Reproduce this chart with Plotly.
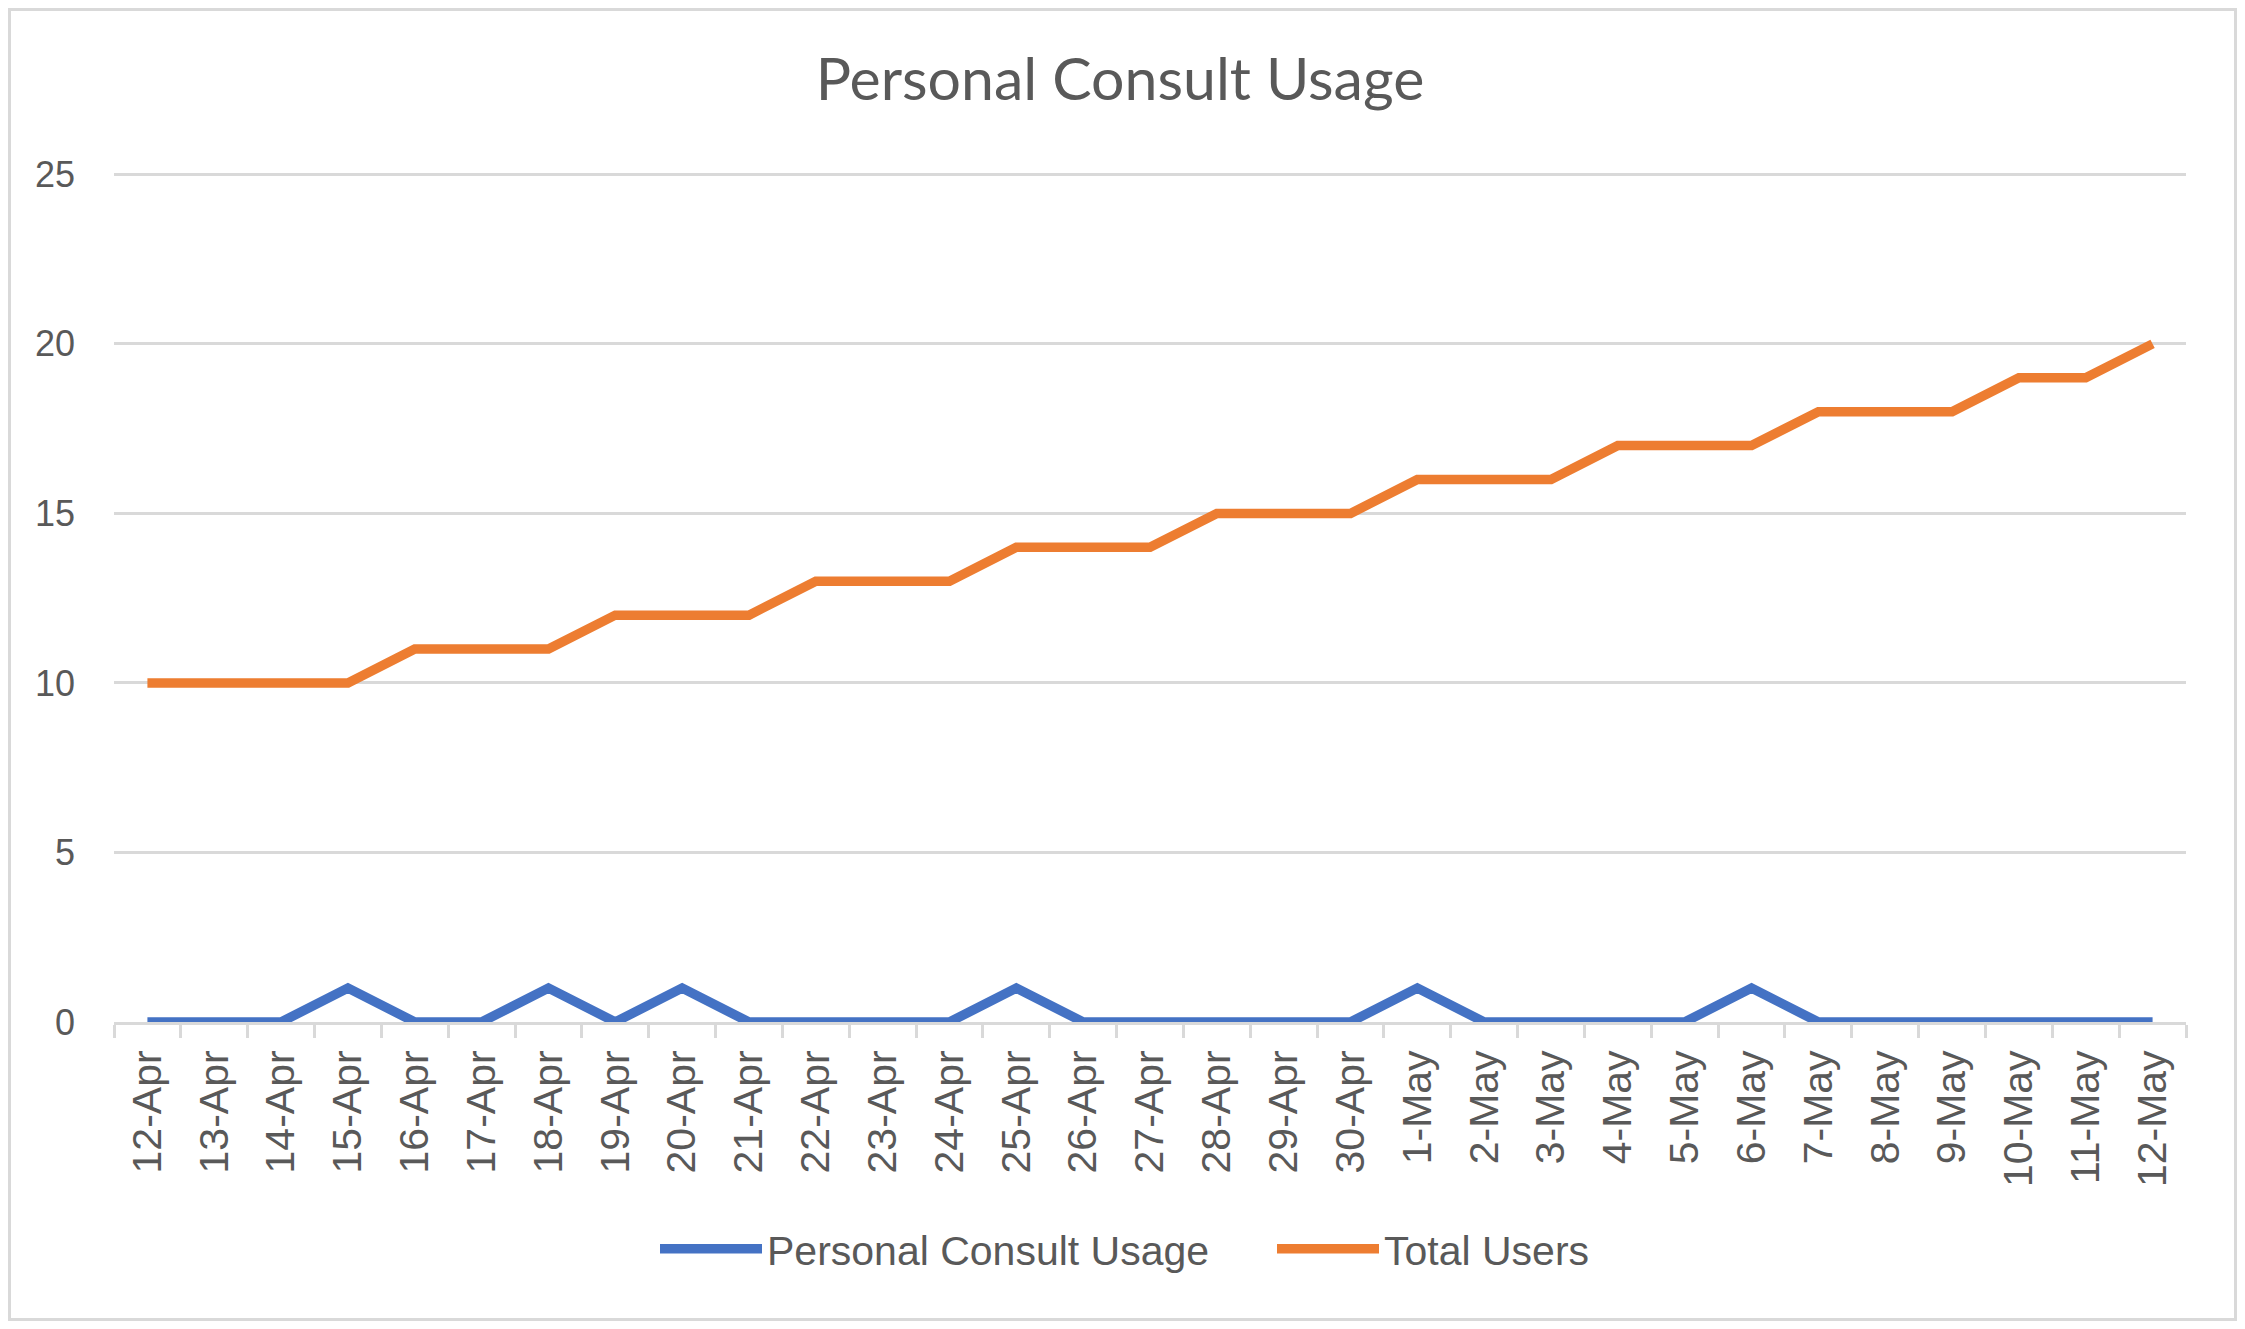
import plotly.graph_objects as go

dates = ["12-Apr", "13-Apr", "14-Apr", "15-Apr", "16-Apr", "17-Apr", "18-Apr", "19-Apr",
         "20-Apr", "21-Apr", "22-Apr", "23-Apr", "24-Apr", "25-Apr", "26-Apr", "27-Apr",
         "28-Apr", "29-Apr", "30-Apr", "1-May", "2-May", "3-May", "4-May", "5-May",
         "6-May", "7-May", "8-May", "9-May", "10-May", "11-May", "12-May"]
consult_usage = [0, 0, 0, 1, 0, 0, 1, 0, 1, 0, 0, 0, 0, 1, 0, 0, 0, 0, 0, 1,
                 0, 0, 0, 0, 1, 0, 0, 0, 0, 0, 0]
total_users = [10, 10, 10, 10, 11, 11, 11, 12, 12, 12, 13, 13, 13, 14, 14, 14,
               15, 15, 15, 16, 16, 16, 17, 17, 17, 18, 18, 18, 19, 19, 20]
y_ticks = [0, 5, 10, 15, 20, 25]

OFF = 8  # page body margin
W, H = 2245 - 2 * OFF, 1329 - 2 * OFF
L = 114 - OFF
T = 173 - OFF
R = W - (2186 - OFF)
B = H - (1022 - OFF)
pw, ph = W - L - R, H - T - B

TXT = "#595959"
GRID = "#D9D9D9"
LW = 9.5

fig = go.Figure()
fig.add_trace(go.Scatter(x=dates, y=consult_usage, mode="lines", name="Personal Consult Usage",
                         line=dict(color="#4472C4", width=LW)))
fig.add_trace(go.Scatter(x=dates, y=total_users, mode="lines", name="Total Users",
                         line=dict(color="#ED7D31", width=LW)))


def px_x(p):
    return (p - OFF - L) / pw


def px_y(p):
    return (H - B - (p - OFF)) / ph


def fx(f):
    return (f - L) / pw


def fy(f):
    return (H - B - f) / ph


fig.add_shape(type="rect", xref="paper", yref="paper",
              x0=fx(1.5), x1=fx(W - 1.5), y0=fy(H - 1.5), y1=fy(1.5),
              line=dict(color=GRID, width=3), fillcolor="rgba(0,0,0,0)", layer="below")

fig.update_layout(
    width=W, height=H,
    margin=dict(l=L, r=R, t=T, b=B),
    paper_bgcolor="white", plot_bgcolor="white",
    title=dict(text="Personal Consult Usage", x=(1120 - OFF) / W, xref="container", xanchor="center",
               y=1 - (79 - OFF) / H, yref="container", yanchor="middle",
               font=dict(family="Lato, Open Sans, sans-serif", size=59, color=TXT)),
    legend=dict(orientation="h", x=px_x(663 - 8), xanchor="left", y=px_y(1249), yanchor="middle",
                font=dict(family="Liberation Sans, Arial, sans-serif", size=41, color=TXT),
                itemwidth=102, entrywidth=500, bgcolor="rgba(0,0,0,0)"),
    showlegend=True,
)
fig.update_xaxes(type="category", range=[-0.5, len(dates) - 0.5],
                 showgrid=False, showline=True, linecolor=GRID, linewidth=3,
                 ticks="outside", tickson="boundaries", ticklen=13, tickcolor=GRID, tickwidth=3,
                 tickangle=-90, ticklabelstandoff=9,
                 tickfont=dict(family="Liberation Sans, Arial, sans-serif", size=41, color=TXT),
                 zeroline=False)
fig.update_yaxes(range=[0, 25.04], tickvals=y_ticks, showgrid=True, gridcolor=GRID, gridwidth=3,
                 showline=False, zeroline=False, ticks="", ticklabelstandoff=38,
                 tickfont=dict(family="Liberation Sans, Arial, sans-serif", size=36, color=TXT))

fig.write_html("out.html")
